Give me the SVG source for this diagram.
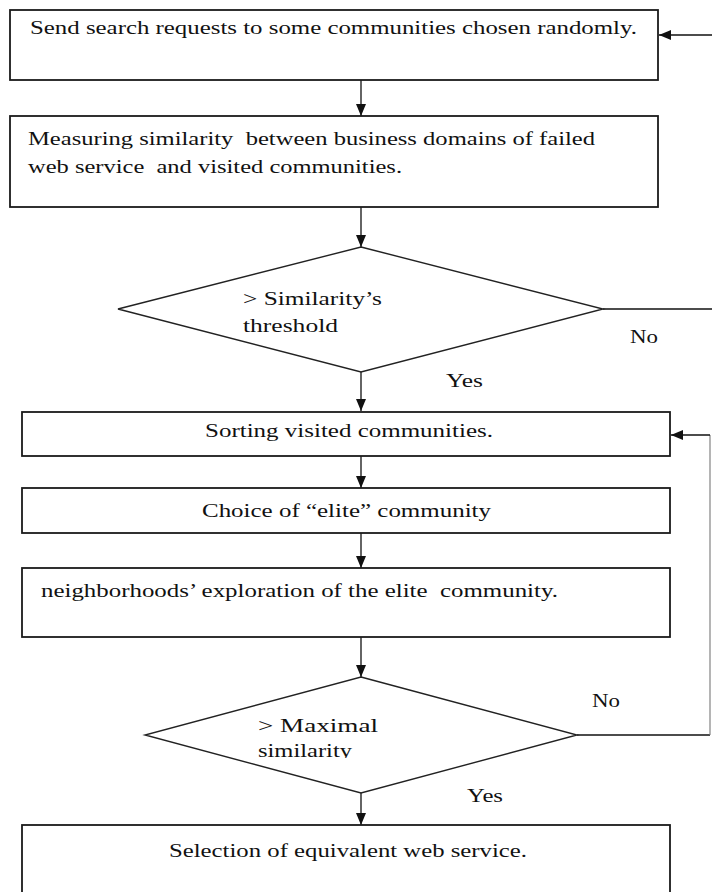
<svg xmlns="http://www.w3.org/2000/svg" width="712" height="892" viewBox="0 0 712 892">
<style>
.box{fill:#fff;stroke:#1a1a1a;stroke-width:1.8}
.dia{fill:#fff;stroke:#222;stroke-width:1.4}
.t{font-family:"Liberation Serif","Times New Roman",serif;font-size:19.5px;fill:#111;white-space:pre}
.c{fill:none;stroke:#111;stroke-width:1.3}
.g{fill:none;stroke:#777;stroke-width:1.1}
</style>
<defs>
<marker id="ah" viewBox="0 0 12 10" refX="12" refY="5" markerWidth="12" markerHeight="10" markerUnits="userSpaceOnUse" orient="auto">
<path d="M0,0 L12,5 L0,10 z" fill="#111"/>
</marker>
<clipPath id="clipMax"><rect x="200" y="700" width="250" height="58"/></clipPath>
</defs>
<rect x="0" y="0" width="712" height="892" fill="#fff"/>
<g id="connectors">
<line class="c" x1="712" y1="35" x2="659" y2="35" marker-end="url(#ah)"/>
<line class="c" x1="361" y1="80" x2="361" y2="116" marker-end="url(#ah)"/>
<line class="c" x1="361" y1="207" x2="361" y2="247" marker-end="url(#ah)"/>
<line class="c" x1="603" y1="309" x2="712" y2="309"/>
<line class="c" x1="361" y1="372" x2="361" y2="411" marker-end="url(#ah)"/>
<line class="c" x1="361" y1="456" x2="361" y2="488" marker-end="url(#ah)"/>
<line class="c" x1="361" y1="533" x2="361" y2="568" marker-end="url(#ah)"/>
<line class="c" x1="361" y1="637" x2="361" y2="677" marker-end="url(#ah)"/>
<polyline class="c" points="577,735 710,735"/>
<polyline class="g" points="710,735 710,435"/>
<line class="c" x1="710" y1="435" x2="671" y2="435" marker-end="url(#ah)"/>
<line class="c" x1="361" y1="793" x2="361" y2="825" marker-end="url(#ah)"/>
<text class="t" x="630" y="343" textLength="28" lengthAdjust="spacingAndGlyphs">No</text>
<text class="t" x="446" y="387" textLength="37" lengthAdjust="spacingAndGlyphs">Yes</text>
<text class="t" x="592" y="707" textLength="28" lengthAdjust="spacingAndGlyphs">No</text>
<text class="t" x="467" y="802" textLength="36" lengthAdjust="spacingAndGlyphs">Yes</text>
</g>
<g id="n1">
<rect class="box" x="10" y="10" width="648" height="70"/>
<text class="t" x="30" y="34" textLength="607" lengthAdjust="spacingAndGlyphs">Send search requests to some communities chosen randomly.</text>
</g>
<g id="n2">
<rect class="box" x="10" y="116" width="648" height="91"/>
<text class="t" x="28" y="145" textLength="567" lengthAdjust="spacingAndGlyphs">Measuring similarity  between business domains of failed</text>
<text class="t" x="28" y="173" textLength="374" lengthAdjust="spacingAndGlyphs">web service  and visited communities.</text>
</g>
<g id="n3">
<polygon class="dia" points="361,247 603,309 361,372 118,309"/>
<text class="t" x="243" y="305" textLength="139" lengthAdjust="spacingAndGlyphs">&gt; Similarity’s</text>
<text class="t" x="243" y="332" textLength="95" lengthAdjust="spacingAndGlyphs">threshold</text>
</g>
<g id="n4">
<rect class="box" x="22" y="412" width="648" height="44"/>
<text class="t" x="205" y="437" textLength="288" lengthAdjust="spacingAndGlyphs">Sorting visited communities.</text>
</g>
<g id="n5">
<rect class="box" x="22" y="488" width="648" height="45"/>
<text class="t" x="202" y="517" textLength="289" lengthAdjust="spacingAndGlyphs">Choice of “elite” community</text>
</g>
<g id="n6">
<rect class="box" x="22" y="568" width="648" height="69"/>
<text class="t" x="41" y="597" textLength="517" lengthAdjust="spacingAndGlyphs">neighborhoods’ exploration of the elite  community.</text>
</g>
<g id="n7">
<polygon class="dia" points="361,677 577,735 361,793 145,735"/>
<text class="t" x="258" y="732" textLength="120" lengthAdjust="spacingAndGlyphs">&gt; Maximal</text>
<text class="t" x="258" y="757" textLength="94" lengthAdjust="spacingAndGlyphs" clip-path="url(#clipMax)">similarity</text>
</g>
<g id="n8">
<rect class="box" x="22" y="825" width="648" height="80"/>
<text class="t" x="169" y="857" textLength="358" lengthAdjust="spacingAndGlyphs">Selection of equivalent web service.</text>
</g>
</svg>
